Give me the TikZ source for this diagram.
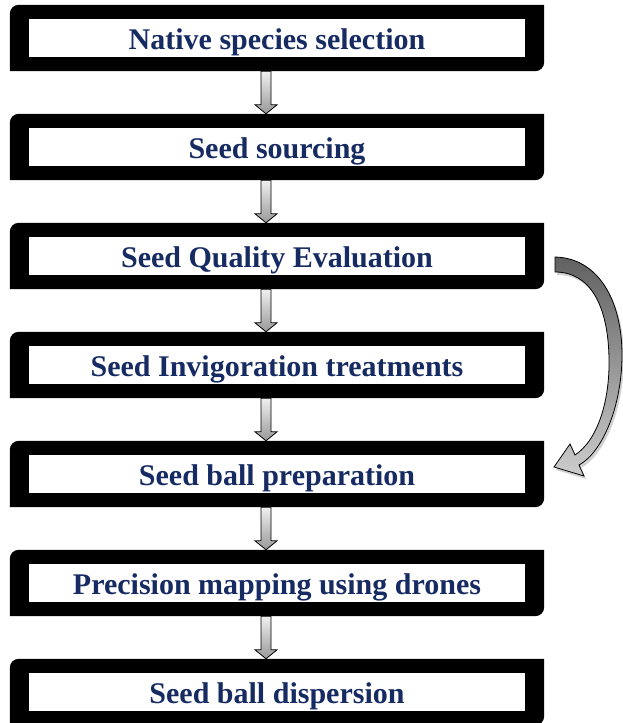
\documentclass[tikz,border=0pt]{standalone}
\usepackage{fontspec}
\setmainfont{Liberation Serif}
\usetikzlibrary{calc}
\definecolor{navy}{HTML}{172B63}
\begin{document}
\begin{tikzpicture}[x=1pt,y=-1pt,
  frame/.style={rectangle, minimum width=534pt, minimum height=66pt, inner sep=0pt},
  steplabel/.style={rectangle, fill=white, minimum width=496pt, minimum height=38pt, inner sep=0pt, text height=28pt, text depth=6pt, text=navy, font=\fontsize{30}{36}\selectfont\bfseries},
  flowarrow/.style={draw=black, line width=0.8pt, top color=black!6, bottom color=black!40},
  bigarrow/.style={draw=black, line width=0.8pt, top color=black!62, bottom color=black!20},
  arrowshadow/.style={fill=black!40, opacity=0.45},
]
\useasboundingbox (0,0) rectangle (623,723);
% frame placeholders
\foreach \i in {1,...,7}
  \node[frame] (f\i) at (277, {38+109*(\i-1)}) {};
% straight connectors
\foreach \i [evaluate=\i as \j using int(\i+1)] in {1,...,6}
  \path[flowarrow] let \p1=([xshift=-11pt]f\i.south), \p2=([xshift=-11pt]f\j.north) in
    (\x1-5pt,\y1) -- (\x1-5pt,\y2+9pt) -- (\x1-11pt,\y2+9pt) -- (\x2,\y2)
    -- (\x1+11pt,\y2+9pt) -- (\x1+5pt,\y2+9pt) -- (\x1+5pt,\y1) -- cycle;
% black frames with two rounded corners
\foreach \i in {1,...,7}
  \fill[black] (f\i.south west) -- ([yshift=-9pt]f\i.north west)
    arc[start angle=180, end angle=90, radius=9pt] -- (f\i.north east)
    -- ([yshift=9pt]f\i.south east) arc[start angle=0, end angle=-90, radius=9pt] -- cycle;
% labels
\foreach \i/\t in {1/Native species selection, 2/Seed sourcing, 3/Seed Quality Evaluation,
  4/Seed Invigoration treatments, 5/Seed ball preparation,
  6/Precision mapping using drones, 7/Seed ball dispersion}
  \node[steplabel] (t\i) at (f\i.center) {\t};
% curved feedback arrow
\def\curvepath{(555,257) .. controls (598,258) and (622,300) .. (622,355)
  .. controls (622,405) and (603,452) .. (579,465) -- (584,476) -- (554,467)
  -- (570,444) -- (575,455) .. controls (598,440) and (610,400) .. (609,358)
  .. controls (608,305) and (590,272) .. (555,272) -- cycle}
\fill[arrowshadow, shift={(2,3)}] \curvepath;
\path[bigarrow] \curvepath;
\end{tikzpicture}
\end{document}
